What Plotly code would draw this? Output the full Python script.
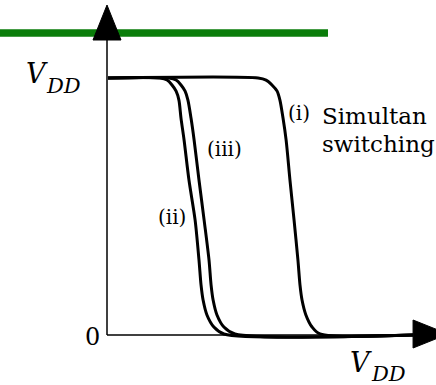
import plotly.graph_objects as go

# Inverter voltage-transfer characteristics, both axes normalised to VDD.
# Shared output levels along the falling edge (Vout / VDD).
vout_edge = [1.0, 0.992, 0.973, 0.949, 0.914, 0.844, 0.759, 0.603, 0.447,
             0.292, 0.195, 0.136, 0.078, 0.031, 0.004]

# Input voltage (Vin / VDD) at each of those output levels, per curve.
vin_i = [0.584, 0.615, 0.638, 0.658, 0.669, 0.681, 0.693, 0.708, 0.724,
         0.739, 0.747, 0.755, 0.770, 0.794, 0.825]
vin_ii = [0.202, 0.230, 0.249, 0.265, 0.276, 0.284, 0.296, 0.315, 0.339,
          0.354, 0.362, 0.370, 0.385, 0.412, 0.451]
vin_iii = [0.237, 0.265, 0.284, 0.300, 0.311, 0.323, 0.335, 0.354, 0.374,
           0.393, 0.401, 0.409, 0.424, 0.451, 0.494]

curve_labels = ["(i)", "(ii)", "(iii)"]
note_lines = ["Simultan", "switching"]
axis_end = 1.187  # where the x-axis arrowhead begins (Vin / VDD)

# Canvas geometry (pixels) and the mapping from pixels to data units
W, H = 436, 385
X0_PX, Y0_PX, UNIT_PX = 108, 335, 257


def dx(px):
    return (px - X0_PX) / UNIT_PX


def dy(py):
    return (Y0_PX - py) / UNIT_PX


fig = go.Figure()

for vin in (vin_i, vin_ii, vin_iii):
    xs = [0.0] + vin + [axis_end]
    ys = [1.0] + vout_edge + [0.0]
    fig.add_trace(go.Scatter(
        x=xs, y=ys, mode="lines",
        line=dict(color="black", width=3, shape="spline", smoothing=0.8),
        hoverinfo="skip", showlegend=False,
    ))

shapes = [
    # green rule across the top
    dict(type="line", xref="x", yref="y", x0=dx(-2), x1=dx(328), y0=dy(33), y1=dy(33),
         line=dict(color="#0a7d0a", width=7.5), layer="below"),
    # vertical (Vout) axis
    dict(type="line", xref="x", yref="y", x0=dx(107), x1=dx(107), y0=0, y1=dy(38),
         line=dict(color="black", width=1.5)),
    # horizontal (Vin) axis
    dict(type="line", xref="x", yref="y", x0=dx(107), x1=axis_end, y0=0, y1=0,
         line=dict(color="black", width=1.5)),
    # arrowheads
    dict(type="path", xref="x", yref="y",
         path=f"M {dx(107)} {dy(5)} L {dx(93)} {dy(40)} L {dx(121)} {dy(40)} Z",
         fillcolor="black", line=dict(color="black", width=1)),
    dict(type="path", xref="x", yref="y",
         path=f"M {axis_end} {dy(320)} L {dx(448)} {dy(334)} L {axis_end} {dy(348)} Z",
         fillcolor="black", line=dict(color="black", width=1)),
]

FONT = "DejaVu Serif, Liberation Serif, serif"


def label(text, px, py, size, xanchor="center", italic=False):
    return dict(x=dx(px), y=dy(py), xref="x", yref="y", text=text,
                showarrow=False, xanchor=xanchor, yanchor="middle",
                font=dict(family=FONT, size=size, color="black",
                          style="italic" if italic else "normal"))


annotations = [
    label("V", 37, 73, 27, italic=True),
    label("DD", 63, 86, 21, italic=True),
    label("V", 361, 362, 27, italic=True),
    label("DD", 388, 374, 21, italic=True),
    label("0", 92, 337, 24),
    label(curve_labels[0], 299, 113, 20),
    label(curve_labels[2], 224, 149, 20),
    label(curve_labels[1], 172, 217, 20),
    label(note_lines[0], 320, 116, 23, xanchor="left"),
    label(note_lines[1], 320, 144, 23, xanchor="left"),
]

fig.update_layout(
    width=W, height=H,
    margin=dict(l=0, r=0, t=0, b=0),
    paper_bgcolor="white", plot_bgcolor="white",
    xaxis=dict(range=[dx(0), dx(W)], visible=False, fixedrange=True),
    yaxis=dict(range=[dy(H), dy(0)], visible=False, fixedrange=True),
    shapes=shapes, annotations=annotations, showlegend=False,
)

fig.write_html("out.html")
